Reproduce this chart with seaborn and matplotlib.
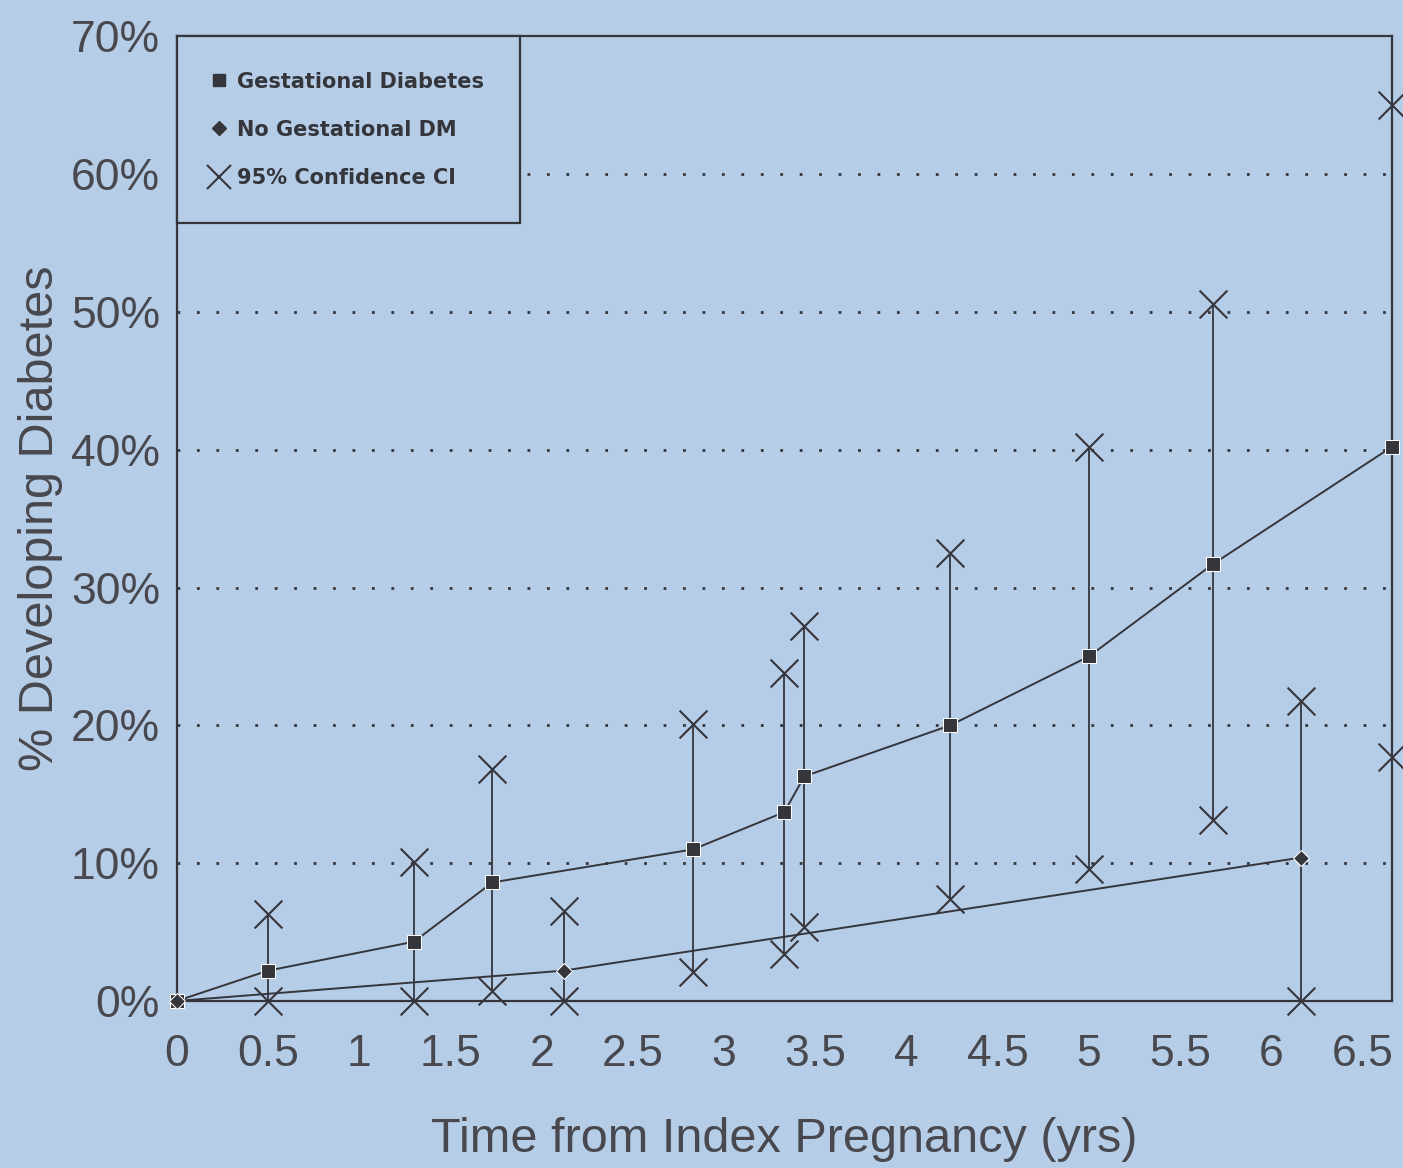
import numpy as np
import pandas as pd
import seaborn as sns
import matplotlib.pyplot as plt
from matplotlib.lines import Line2D

# values (percent developing diabetes)
gdm_years = [0, 0.5, 1.3, 1.73, 2.83, 3.33, 3.44, 4.24, 5.0, 5.68, 6.66]
gdm_pct = [0, 2.2, 4.3, 8.6, 11.0, 13.7, 16.3, 20.0, 25.0, 31.7, 40.2]
gdm_ci_low = [np.nan, 0, 0, 0.7, 2.1, 3.4, 5.4, 7.4, 9.6, 13.1, 17.7]
gdm_ci_high = [np.nan, 6.3, 10.1, 16.8, 20.1, 23.8, 27.2, 32.5, 40.2, 50.6, 65.0]

no_gdm_years = [0, 2.12, 6.16]
no_gdm_pct = [0, 2.2, 10.4]
no_gdm_ci_low = [np.nan, 0, 0]
no_gdm_ci_high = [np.nan, 6.5, 21.8]

x_ticks = [0, 0.5, 1, 1.5, 2, 2.5, 3, 3.5, 4, 4.5, 5, 5.5, 6, 6.5]
x_tick_labels = ["0", "0.5", "1", "1.5", "2", "2.5", "3", "3.5", "4", "4.5", "5", "5.5", "6", "6.5"]
y_ticks = [0, 10, 20, 30, 40, 50, 60, 70]
y_tick_labels = ["0%", "10%", "20%", "30%", "40%", "50%", "60%", "70%"]

paper = "#b5cde6"
ink = "#35353c"
grey_text = "#48484e"

sns.set_theme(style="white")
plt.rcParams["font.family"] = ["Liberation Sans", "DejaVu Sans"]

fig = plt.figure(figsize=(14.03, 11.68), dpi=100, facecolor=paper)
ax = fig.add_axes([0.126, 0.143, 0.866, 0.826], facecolor=paper)

gdm = pd.DataFrame({"year": gdm_years, "pct": gdm_pct, "lo": gdm_ci_low, "hi": gdm_ci_high})
no_gdm = pd.DataFrame({"year": no_gdm_years, "pct": no_gdm_pct, "lo": no_gdm_ci_low, "hi": no_gdm_ci_high})

# dotted reference lines
for v in y_ticks[1:-1]:
    ax.axhline(v, color=ink, lw=2, ls=(0, (1, 6)), zorder=1)

# confidence intervals: vertical bars with x caps
for d in [gdm, no_gdm]:
    ci = d.dropna()
    ax.vlines(ci["year"], ci["lo"], ci["hi"], color=ink, lw=1.3, zorder=2)
    ends = pd.concat([ci[["year", "lo"]].rename(columns={"lo": "v"}),
                      ci[["year", "hi"]].rename(columns={"hi": "v"})])
    sns.scatterplot(data=ends, x="year", y="v", marker="x", s=400, color=ink,
                    linewidth=1.5, ax=ax, zorder=4, clip_on=False, legend=False)

sns.lineplot(data=gdm, x="year", y="pct", marker="s", markersize=10, color=ink,
             lw=1.4, sort=False, estimator=None, ax=ax, zorder=3, clip_on=False)
sns.lineplot(data=no_gdm, x="year", y="pct", marker="D", markersize=8.5, color=ink,
             lw=1.4, sort=False, estimator=None, ax=ax, zorder=3, clip_on=False)

ax.set_xlim(0, 6.66)
ax.set_ylim(0, 70)
ax.set_xticks(x_ticks)
ax.set_xticklabels(x_tick_labels)
ax.set_yticks(y_ticks)
ax.set_yticklabels(y_tick_labels)
ax.tick_params(axis="x", length=0, pad=24, labelsize=32, labelcolor=grey_text)
ax.tick_params(axis="y", length=0, pad=12, labelsize=32, labelcolor=grey_text)
ax.set_xlabel("Time from Index Pregnancy (yrs)", fontsize=35, color=grey_text, labelpad=30)
ax.set_ylabel("% Developing Diabetes", fontsize=35, color=grey_text, labelpad=6)

for s in ax.spines.values():
    s.set_visible(True)
    s.set_color(ink)
    s.set_linewidth(1.6)

handles = [
    Line2D([], [], ls="none", marker="s", markersize=8, color=ink),
    Line2D([], [], ls="none", marker="D", markersize=7, color=ink),
    Line2D([], [], ls="none", marker="x", markersize=17, markeredgewidth=1.5, color=ink),
]
leg = ax.legend(handles, ["Gestational Diabetes", "No Gestational DM", "95% Confidence CI"],
                loc="upper left", bbox_to_anchor=(0, 1), borderaxespad=0, frameon=True,
                fancybox=False, framealpha=1, facecolor=paper, edgecolor=ink,
                prop={"family": "DejaVu Sans", "weight": "bold", "size": 15},
                labelspacing=1.35, handlelength=0.7, handletextpad=0.5,
                borderpad=1.7, labelcolor=ink)
leg.get_frame().set_linewidth(1.6)
leg.set_zorder(5)

fig.savefig("out.png", dpi=100, facecolor=paper)
